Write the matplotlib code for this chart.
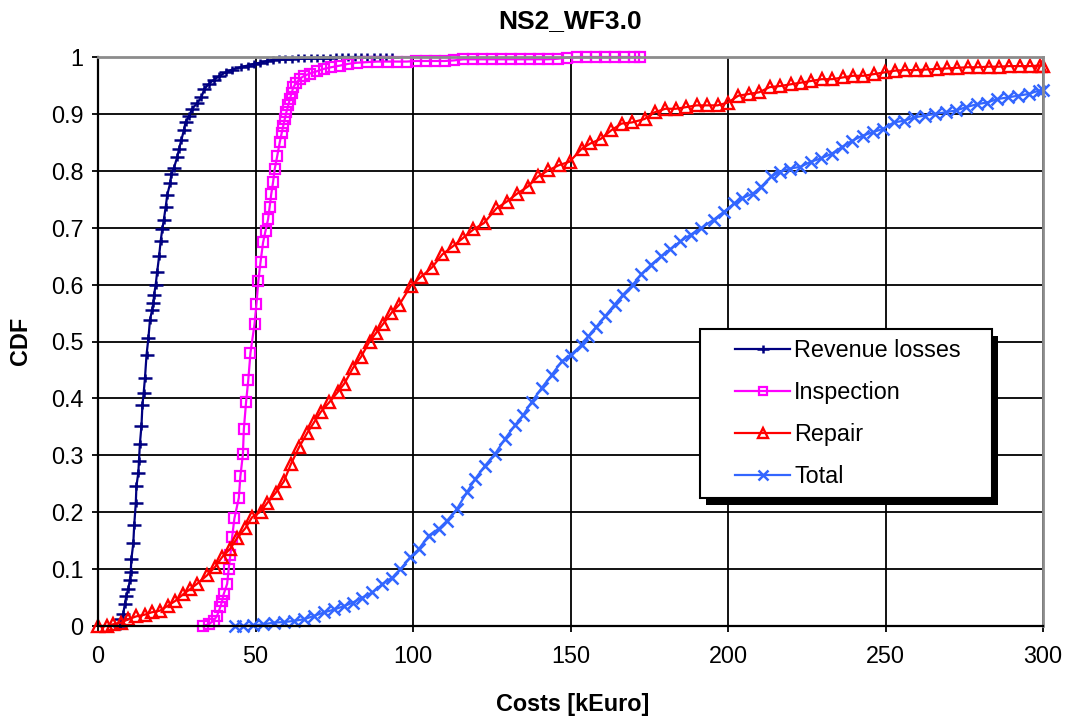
import matplotlib
matplotlib.use("Agg")
import matplotlib.pyplot as plt
from matplotlib.patches import Rectangle
from matplotlib.path import Path

plt.rcParams['font.family'] = ['Liberation Sans', 'DejaVu Sans']

# Empirical CDFs of the cost components (x in kEuro, y = cumulative probability)
rev_x = [6.9, 7.4, 8.0, 8.5, 9.0, 9.6, 10.1, 10.4, 10.6, 11.2,
         11.5, 12.0, 12.2, 12.8, 13.0, 13.3, 13.8, 14.1, 14.5, 14.9,
         15.4, 16.0, 16.5, 17.2, 17.6, 17.8, 18.3, 18.8, 19.4, 19.9,
         20.4, 20.9, 21.5, 22.0, 22.9, 23.3, 24.1, 25.2, 25.7, 26.5,
         27.3, 27.8, 28.9, 29.9, 31.5, 32.8, 33.7, 35.2, 36.8, 38.4,
         40.5, 42.6, 45.3, 47.5, 49.5, 51.5, 53.5, 55.5, 57.5, 59.5,
         61.5, 63.5, 65.5, 67.5, 69.5, 71.5, 73.5, 75.5, 77.5, 79.5,
         81.5, 83.5, 85.5, 87.5, 89.5, 91.5, 93.2]
rev_y = [0.000, 0.012, 0.021, 0.038, 0.053, 0.065, 0.080, 0.095, 0.118, 0.145,
         0.178, 0.216, 0.246, 0.269, 0.290, 0.320, 0.352, 0.388, 0.410, 0.435,
         0.476, 0.506, 0.538, 0.556, 0.568, 0.582, 0.599, 0.623, 0.650, 0.677,
         0.697, 0.714, 0.737, 0.758, 0.778, 0.795, 0.805, 0.825, 0.838, 0.855,
         0.872, 0.886, 0.896, 0.909, 0.919, 0.929, 0.943, 0.953, 0.960, 0.966,
         0.973, 0.978, 0.982, 0.985, 0.988, 0.990, 0.993, 0.995, 0.996, 0.997,
         0.997, 0.998, 0.998, 0.998, 0.999, 0.999, 0.999, 1.000, 1.000, 1.000,
         1.000, 1.000, 1.000, 1.000, 1.000, 1.000, 1.000]

ins_x = [33.3, 35.1, 36.7, 37.8, 38.8, 39.4, 39.9, 41.0, 41.5, 42.0,
         42.6, 43.3, 44.7, 45.2, 46.0, 46.3, 47.0, 47.7, 48.4, 49.7,
         50.3, 50.9, 51.6, 52.4, 53.2, 54.0, 54.5, 55.0, 55.6, 56.1,
         56.9, 57.7, 58.3, 58.8, 59.3, 59.8, 60.4, 60.9, 61.5, 62.0,
         63.0, 64.1, 65.5, 67.3, 69.5, 71.6, 74.0, 76.9, 79.5, 82.3,
         85.5, 88.7, 92.0, 95.0, 98.0, 101.0, 104.0, 107.0, 110.0, 113.0,
         116.0, 119.0, 122.0, 125.0, 128.0, 131.0, 134.0, 137.0, 140.0, 143.0,
         146.0, 149.0, 152.0, 155.0, 158.0, 161.0, 164.0, 167.0, 170.0, 172.0]
ins_y = [0.000, 0.003, 0.009, 0.018, 0.033, 0.044, 0.056, 0.074, 0.101, 0.124,
         0.157, 0.189, 0.225, 0.263, 0.302, 0.346, 0.393, 0.432, 0.480, 0.531,
         0.566, 0.606, 0.640, 0.674, 0.695, 0.715, 0.737, 0.759, 0.781, 0.803,
         0.826, 0.850, 0.866, 0.879, 0.891, 0.903, 0.915, 0.926, 0.937, 0.947,
         0.955, 0.962, 0.967, 0.971, 0.975, 0.979, 0.982, 0.985, 0.988, 0.990,
         0.991, 0.992, 0.992, 0.992, 0.992, 0.993, 0.993, 0.993, 0.993, 0.994,
         0.996, 0.996, 0.996, 0.996, 0.996, 0.996, 0.996, 0.996, 0.996, 0.996,
         0.997, 0.999, 1.000, 1.000, 1.000, 1.000, 1.000, 1.000, 1.000, 1.000]

rep_x = [0.0, 2.7, 4.8, 7.4, 9.6, 12.2, 14.9, 17.0, 19.7, 22.3,
         24.5, 27.1, 29.3, 31.4, 34.6, 37.2, 39.4, 42.0, 44.1, 46.8,
         48.9, 51.6, 53.7, 56.4, 59.0, 61.2, 63.8, 66.5, 68.6, 70.7,
         73.4, 76.1, 78.2, 80.9, 83.5, 86.2, 88.3, 90.4, 93.1, 95.7,
         99.3, 102.6, 106.0, 109.3, 112.6, 115.9, 119.2, 122.5, 126.5, 129.8,
         133.1, 136.4, 139.7, 143.0, 146.4, 149.7, 153.6, 156.3, 159.6, 162.9,
         166.2, 169.5, 173.5, 176.8, 180.1, 183.4, 186.8, 190.0, 193.4, 196.7,
         200.0, 203.3, 206.6, 209.9, 213.2, 216.6, 219.9, 223.2, 226.5, 229.8,
         233.1, 236.4, 239.7, 243.0, 246.4, 249.7, 253.0, 256.3, 259.6, 262.9,
         266.2, 269.5, 272.8, 276.1, 279.4, 282.7, 286.0, 289.3, 292.6, 295.9,
         299.2, 300.0]
rep_y = [0.000, 0.000, 0.003, 0.006, 0.012, 0.017, 0.020, 0.024, 0.027, 0.036,
         0.044, 0.056, 0.065, 0.074, 0.089, 0.104, 0.121, 0.136, 0.154, 0.172,
         0.191, 0.201, 0.216, 0.234, 0.254, 0.284, 0.314, 0.340, 0.358, 0.376,
         0.393, 0.411, 0.426, 0.453, 0.473, 0.500, 0.515, 0.530, 0.550, 0.565,
         0.598, 0.614, 0.630, 0.653, 0.667, 0.682, 0.697, 0.708, 0.734, 0.746,
         0.760, 0.772, 0.790, 0.801, 0.810, 0.816, 0.839, 0.848, 0.856, 0.871,
         0.883, 0.885, 0.891, 0.903, 0.909, 0.909, 0.912, 0.915, 0.915, 0.915,
         0.920, 0.932, 0.935, 0.938, 0.947, 0.949, 0.952, 0.955, 0.958, 0.961,
         0.961, 0.964, 0.967, 0.967, 0.970, 0.973, 0.976, 0.977, 0.977, 0.978,
         0.979, 0.980, 0.981, 0.982, 0.982, 0.983, 0.983, 0.984, 0.984, 0.984,
         0.985, 0.985]

tot_x = [43.4, 46.0, 49.2, 52.3, 56.0, 59.2, 62.3, 65.5, 68.7, 71.8,
         75.0, 78.1, 80.8, 83.9, 87.1, 90.3, 93.4, 96.0, 99.2, 101.8,
         105.0, 108.2, 110.8, 114.0, 117.1, 119.8, 122.9, 126.1, 129.2, 132.4,
         135.0, 137.7, 140.8, 144.0, 147.2, 150.0, 153.5, 155.6, 158.2, 160.9,
         164.0, 166.6, 169.8, 172.4, 175.6, 178.8, 181.6, 184.9, 188.2, 191.4,
         195.4, 198.7, 202.0, 204.6, 207.9, 210.5, 213.8, 216.4, 219.7, 223.0,
         226.3, 229.6, 232.9, 236.2, 239.5, 242.8, 246.1, 249.3, 252.6, 255.9,
         259.2, 262.5, 265.8, 269.1, 272.4, 275.7, 279.0, 282.2, 285.5, 288.8,
         292.1, 295.4, 298.7, 300.0]
tot_y = [0.000, 0.000, 0.001, 0.003, 0.006, 0.007, 0.009, 0.012, 0.018, 0.024,
         0.029, 0.035, 0.041, 0.050, 0.059, 0.074, 0.085, 0.100, 0.121, 0.135,
         0.159, 0.171, 0.185, 0.206, 0.235, 0.259, 0.282, 0.303, 0.329, 0.353,
         0.371, 0.394, 0.418, 0.441, 0.465, 0.476, 0.494, 0.509, 0.526, 0.544,
         0.565, 0.582, 0.600, 0.618, 0.635, 0.650, 0.662, 0.676, 0.688, 0.699,
         0.714, 0.728, 0.743, 0.752, 0.760, 0.772, 0.790, 0.798, 0.804, 0.807,
         0.816, 0.822, 0.830, 0.842, 0.853, 0.862, 0.868, 0.874, 0.885, 0.888,
         0.894, 0.897, 0.900, 0.903, 0.906, 0.912, 0.917, 0.920, 0.926, 0.929,
         0.932, 0.935, 0.941, 0.942]

series_labels = ["Revenue losses", "Inspection", "Repair", "Total"]
x_ticks = [0, 50, 100, 150, 200, 250, 300]
y_ticks = [0, 0.1, 0.2, 0.3, 0.4, 0.5, 0.6, 0.7, 0.8, 0.9, 1]
y_ticklabels = ["0", "0.1", "0.2", "0.3", "0.4", "0.5", "0.6", "0.7", "0.8", "0.9", "1"]

W, H = 1070, 722
fig = plt.figure(figsize=(W / 100, H / 100), dpi=100)
ax = fig.add_axes([98 / W, 1 - 626 / H, 945 / W, 569 / H])

# wide, flat plus sign
plus_marker = Path([(-1, 0), (1, 0), (0, -0.6), (0, 0.6)],
                   [Path.MOVETO, Path.LINETO, Path.MOVETO, Path.LINETO])

common = dict(lw=1.6, clip_on=False, zorder=3)
ax.plot(rev_x, rev_y, color='#000080', marker=plus_marker, ms=10, mew=1.8,
        label=series_labels[0], **common)
ax.plot(ins_x, ins_y, color='#FF00FF', marker='s', ms=7, mfc='none', mew=1.6,
        label=series_labels[1], **common)
ax.plot(rep_x, rep_y, color='#FF0000', marker='^', ms=9, mfc='none', mew=1.7,
        label=series_labels[2], **common)
ax.plot(tot_x, tot_y, color='#3366FF', marker='x', ms=9, mew=1.8,
        label=series_labels[3], **common)

ax.set_xlim(0, 300)
ax.set_ylim(0, 1)
ax.set_xticks(x_ticks)
ax.set_yticks(y_ticks)
ax.set_yticklabels(y_ticklabels)
ax.grid(True, color='black', lw=1.3, zorder=1)
ax.set_axisbelow(True)
ax.tick_params(direction='out', length=4.5, width=1.3, labelsize=16.8, pad=6,
               colors='black')
ax.tick_params(axis='x', pad=9)

for side in ('left', 'bottom'):
    ax.spines[side].set_color('black')
    ax.spines[side].set_linewidth(1.6)
for side in ('top', 'right'):
    ax.spines[side].set_color('#8c8c8c')
    ax.spines[side].set_linewidth(2.0)
for sp in ax.spines.values():
    sp.set_zorder(4)

fig.text(570 / W, 1 - 21 / H, "NS2_WF3.0", ha='center', va='center',
         fontsize=19, fontweight='bold')
fig.text(573 / W, 1 - 704 / H, "Costs [kEuro]", ha='center', va='center',
         fontsize=16.8, fontweight='bold')
fig.text(21 / W, 1 - 341 / H, "CDF", ha='center', va='center', rotation=90,
         fontsize=16.8, fontweight='bold')

# legend box with a solid drop shadow
bx0, bx1 = (700 - 98) / 945, (992 - 98) / 945
by0, by1 = (626 - 498) / 569, (626 - 329) / 569
ax.add_patch(Rectangle((bx0 + 6 / 945, by0 - 7 / 569), bx1 - bx0, by1 - by0,
                       transform=ax.transAxes, fc='black', ec='black',
                       lw=0, zorder=5, clip_on=False))
ax.add_patch(Rectangle((bx0, by0), bx1 - bx0, by1 - by0,
                       transform=ax.transAxes, fc='white', ec='black',
                       lw=1.5, zorder=5.5, clip_on=False))
leg = ax.legend(loc='upper left', bbox_to_anchor=((735 - 98) / 945, (626 - 339) / 569),
                frameon=False, fontsize=16.8, handlelength=2.36,
                handletextpad=0.17, labelspacing=0.81, borderpad=0,
                borderaxespad=0, markerscale=0.85)
leg.set_zorder(6)

fig.savefig("out.png", dpi=100)
